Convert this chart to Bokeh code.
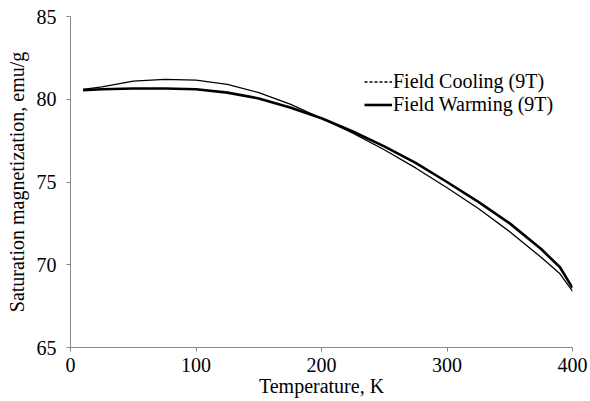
from bokeh.plotting import figure
from bokeh.models import Range1d, Legend, LegendItem, ColumnDataSource, FixedTicker
from bokeh.embed import file_html
from bokeh.resources import INLINE

temps = [10, 25, 50, 75, 100, 125, 150, 175, 200, 225, 250, 275, 300, 325, 350, 375, 390, 400]
warming = [80.55, 80.6, 80.65, 80.65, 80.6, 80.4, 80.05, 79.5, 78.85, 78.05, 77.15, 76.15, 75.0, 73.8, 72.5, 70.95, 69.85, 68.6]
cooling = [80.6, 80.75, 81.1, 81.2, 81.15, 80.9, 80.4, 79.7, 78.85, 77.95, 76.95, 75.85, 74.65, 73.4, 72.0, 70.45, 69.45, 68.4]
x_ticks = [0, 100, 200, 300, 400]
y_ticks = [65, 70, 75, 80, 85]
labels = ["Field Cooling (9T)", "Field Warming (9T)"]
x_title = "Temperature, K"
y_title = "Saturation magnetization, emu/g"

FONT = "Liberation Serif"
AXIS_COLOR = "#888888"

p = figure(width=588, height=399, output_backend="svg", toolbar_location=None,
           x_range=Range1d(0, 400), y_range=Range1d(65, 85),
           min_border_left=70, min_border_right=16, min_border_top=16, min_border_bottom=50)
p.outline_line_color = None
p.xgrid.visible = False
p.ygrid.visible = False

src_c = ColumnDataSource(dict(x=temps, y=cooling))
src_w = ColumnDataSource(dict(x=temps, y=warming))
r_c = p.line("x", "y", source=src_c, line_color="black", line_width=1.3)
r_w = p.line("x", "y", source=src_w, line_color="black", line_width=2.6)

# legend proxy glyphs (placed outside the visible range)
r_c_leg = p.line(x=[-200, -190], y=[0, 0], line_color="black", line_width=1.3, line_dash="3 2")
r_w_leg = p.line(x=[-200, -190], y=[0, 0], line_color="black", line_width=2.6)

legend = Legend(items=[LegendItem(label=labels[0], renderers=[r_c_leg]),
                       LegendItem(label=labels[1], renderers=[r_w_leg])],
                location=(294, 231))
legend.background_fill_alpha = 0
legend.border_line_color = None
legend.padding = 0
legend.margin = 0
legend.spacing = -2
legend.glyph_width = 28
legend.glyph_height = 21
legend.label_height = 21
legend.label_standoff = 1
legend.label_text_font = FONT
legend.label_text_font_size = "20px"
legend.label_text_color = "black"
p.add_layout(legend, "center")

for ax in (p.xaxis[0], p.yaxis[0]):
    ax.axis_line_color = AXIS_COLOR
    ax.major_tick_line_color = AXIS_COLOR
    ax.minor_tick_line_color = None
    ax.major_tick_out = 4
    ax.major_tick_in = 0
    ax.major_label_text_font = FONT
    ax.major_label_text_font_size = "20px"
    ax.major_label_text_color = "black"
    ax.axis_label_text_font = FONT
    ax.axis_label_text_font_size = "20px"
    ax.axis_label_text_font_style = "normal"
    ax.axis_label_text_color = "black"

p.xaxis.ticker = FixedTicker(ticks=x_ticks)
p.yaxis.ticker = FixedTicker(ticks=y_ticks)
p.xaxis.axis_label = x_title
p.yaxis.axis_label = y_title
p.xaxis.major_label_standoff = 6
p.yaxis.major_label_standoff = 10
p.xaxis.axis_label_text_line_height = 0.6
p.xaxis.axis_label_standoff = 0
p.yaxis.axis_label_standoff = 6

open("out.html", "w").write(file_html(p, INLINE))
